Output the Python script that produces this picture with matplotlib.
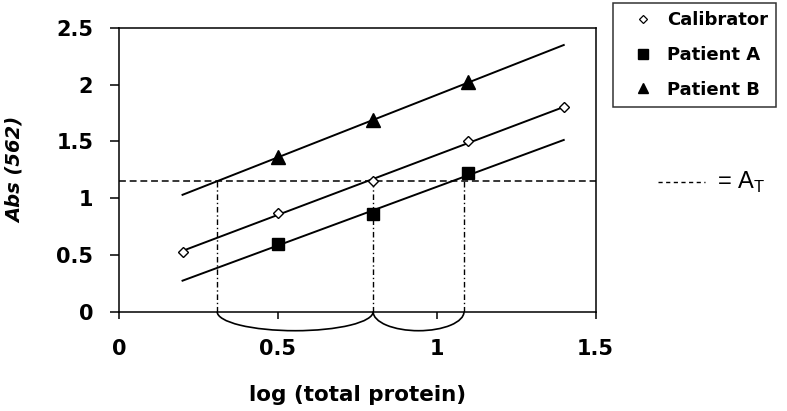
import numpy as np
import matplotlib.pyplot as plt
from matplotlib.patches import Arc
from matplotlib.lines import Line2D

# values
cal_x = [0.2, 0.5, 0.8, 1.1, 1.4]
cal_y = [0.53, 0.87, 1.15, 1.50, 1.80]
pat_x = [0.5, 0.8, 1.1]
pat_a_y = [0.60, 0.86, 1.22]
pat_b_y = [1.36, 1.69, 2.02]
fit_x = [0.2, 1.4]           # span of the drawn regression lines
a_t = 1.155                  # threshold absorbance A_T
cross_x = [0.309, 0.8, 1.086]  # log(total protein) where each line hits A_T

xticks = [0, 0.5, 1, 1.5]
yticks = [0, 0.5, 1, 1.5, 2, 2.5]
ytick_labels = ['0', '0.5', '1', '1.5', '2', '2.5']

plt.rcParams['font.family'] = ['DejaVu Sans']

fig = plt.figure(figsize=(7.87, 4.11), dpi=100)
ax = fig.add_axes([0.1512, 0.2416, 0.6055, 0.6903])

# regression lines through each series
for xs, ys in [(cal_x, cal_y), (pat_x, pat_a_y), (pat_x, pat_b_y)]:
    k, b = np.polyfit(xs, ys, 1)
    fx = np.array(fit_x)
    ax.plot(fx, k * fx + b, color='black', lw=1.4, zorder=2)

ax.plot(cal_x, cal_y, ls='none', marker='D', ms=5.5, mfc='white',
        mec='black', mew=1.0, zorder=3)
ax.plot(pat_x, pat_a_y, ls='none', marker='s', ms=8.5, color='black', zorder=3)
ax.plot(pat_x, pat_b_y, ls='none', marker='^', ms=9.5, color='black', zorder=3)

# threshold line and drops to the x axis
ax.axhline(a_t, color='black', lw=1.1, dashes=(4.5, 2.5), zorder=1)
for cx in cross_x:
    ax.plot([cx, cx], [0, a_t], color='black', lw=1.0,
            ls=(0, (4, 2, 1, 2)), zorder=1)

# braces under the axis between the crossings
for x0, x1 in zip(cross_x[:-1], cross_x[1:]):
    arc = Arc(((x0 + x1) / 2, 0), x1 - x0, 0.335, theta1=180, theta2=360,
              color='black', lw=1.2, clip_on=False)
    ax.add_patch(arc)

ax.set_xlim(0, 1.5)
ax.set_ylim(0, 2.5)
ax.set_xticks(xticks)
ax.set_xticklabels(['0', '0.5', '1', '1.5'])
ax.set_yticks(yticks)
ax.set_yticklabels(ytick_labels)
ax.tick_params(axis='y', direction='out', length=6.5, width=1.1, pad=12,
               labelsize=15)
ax.tick_params(axis='x', direction='out', length=5, width=1.1, pad=15,
               labelsize=15)
for lab in ax.get_xticklabels() + ax.get_yticklabels():
    lab.set_fontweight('bold')
for sp in ax.spines.values():
    sp.set_linewidth(1.1)

ax.set_xlabel('log (total protein)', fontsize=15.5, fontweight='bold')
ax.xaxis.set_label_coords(0.5, -0.294)
ax.xaxis.label.set_verticalalignment('center')
ax.set_ylabel('Abs (562)', fontsize=14, fontweight='bold', style='italic')
ax.yaxis.set_label_coords(-0.218, 0.5)
ax.yaxis.label.set_verticalalignment('center')

handles = [
    Line2D([], [], ls='none', marker='D', ms=4.5, mfc='white', mec='black', mew=0.9),
    Line2D([], [], ls='none', marker='s', ms=6.5, color='black'),
    Line2D([], [], ls='none', marker='^', ms=7.5, color='black'),
]
leg = fig.legend(handles, ['Calibrator', 'Patient A', 'Patient B'],
                 loc='upper left', bbox_to_anchor=(613 / 787, 1 - 3 / 411),
                 frameon=True, fancybox=False, edgecolor='black',
                 prop={'weight': 'bold', 'size': 13}, handlelength=2.38,
                 handletextpad=0.14, labelspacing=0.93, borderpad=0.45,
                 borderaxespad=0)
leg.get_frame().set_linewidth(1.1)

# "------ = A_T" key on the right
fig.add_artist(Line2D([658 / 787, 705 / 787], [1 - 182 / 411, 1 - 182 / 411],
                      color='black', lw=1.0, dashes=(3, 2.5)))
fig.text(717 / 787, 1 - 182 / 411, r'= A$_\mathregular{T}$', fontsize=17,
         family='Liberation Sans', va='center', ha='left')

fig.savefig('out.png', dpi=100)
